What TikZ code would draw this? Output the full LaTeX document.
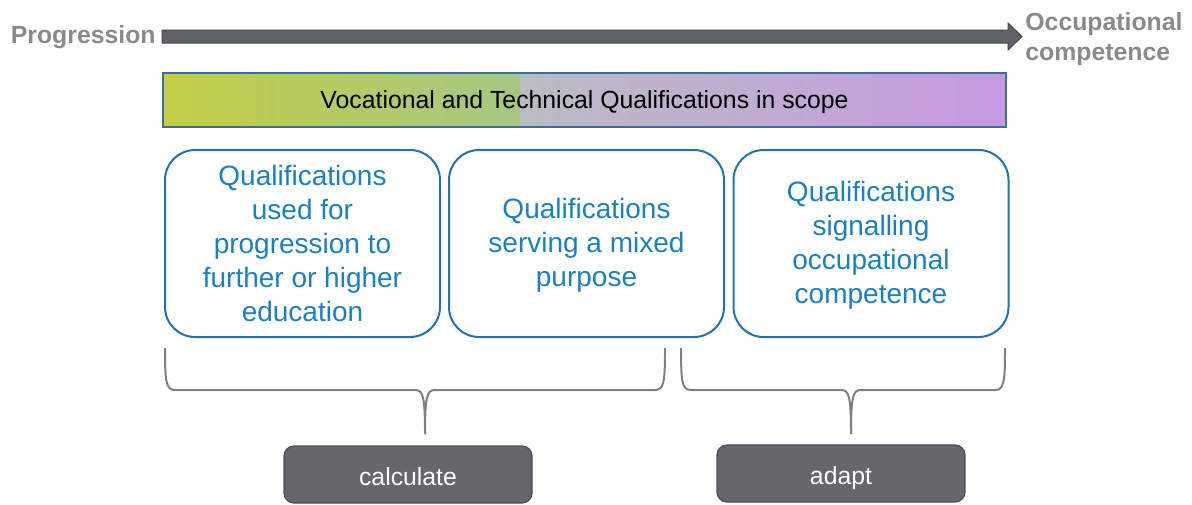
\documentclass[tikz,border=0pt]{standalone}
\usepackage{fontspec}
\setmainfont{Liberation Sans}

\definecolor{leadgray}{HTML}{8A8A8A}
\definecolor{arrowfill}{HTML}{5F6368}
\definecolor{arrowline}{HTML}{45484C}
\definecolor{barline}{HTML}{3A6F9C}
\definecolor{barleft}{HTML}{C3CE45}
\definecolor{barmid}{HTML}{A6C783}
\definecolor{bargray}{HTML}{BBBCC3}
\definecolor{barright}{HTML}{C59AE1}
\definecolor{qualline}{HTML}{2272B0}
\definecolor{qualtext}{HTML}{1B80C3}
\definecolor{bracegray}{HTML}{7F7F7F}
\definecolor{actionfill}{HTML}{64676B}
\definecolor{actionline}{HTML}{4B4E52}

\tikzset{
  lead/.style={font=\fontsize{12.4}{15}\selectfont\bfseries, text=leadgray, inner sep=0pt, align=left},
  scopebar/.style={draw=barline, line width=0.8pt, minimum width=421.5pt, minimum height=27pt,
    inner sep=0pt, text height=11.5pt, text depth=3pt, font=\fontsize{12.4}{15}\selectfont},
  qual/.style={draw=qualline, line width=1pt, rounded corners=15pt, minimum width=137.5pt,
    minimum height=93.5pt, align=center, text=qualtext, font=\fontsize{14}{17}\selectfont},
  bracket/.style={draw=bracegray, line width=1pt},
  action/.style={fill=actionfill, draw=actionline, line width=0.6pt, rounded corners=5pt,
    minimum width=124pt, minimum height=28.5pt, inner sep=0pt, text height=10.5pt, text depth=0pt,
    text=white, font=\fontsize{12.4}{15}\selectfont},
}

\begin{document}
\begin{tikzpicture}[x=0.5pt, y=-0.5pt]
                        \useasboundingbox (0,0) rectangle (1192,504);

                        % progression arrow
                        \node[lead, anchor=east] (prog) at (156,37) {Progression};
                        \node[lead, anchor=west] (occ) at (1025,39) {Occupational\\competence};
                        \filldraw[fill=arrowfill, draw=arrowline, line width=0.5pt]
                            (162,30) -- (1008,30) -- (1008,23) -- (1022,36.5)
                            -- (1008,50) -- (1008,43) -- (162,43) -- cycle;

                        % scope bar, two shaded halves under the frame
                        \shade[left color=barleft, right color=barmid] (163,73) rectangle (520,127);
                        \shade[left color=bargray, right color=barright] (520,73) rectangle (1006,127);
                        \node[scopebar] (scope) at (584.5,100) {Vocational and Technical Qualifications in scope};

                        % qualification groups
                        \node[qual] (further) at (302.5,243.5)
                            {Qualifications\\used for\\progression to\\further or higher\\education};
                        \node[qual] (mixed) at (586.5,243.5)
                            {\strut Qualifications\\serving a mixed\\purpose};
                        \node[qual] (occupational) at (871,243.5)
                            {\strut Qualifications\\signalling\\occupational\\competence};

                        % braces
                        \draw[bracket] (165,348) .. controls (165,382) and (166,390) .. (175,390) -- (415,390)
                            .. controls (423,390) and (425,396) .. (425,434);
                        \draw[bracket] (665,348) .. controls (665,382) and (664,390) .. (655,390) -- (435,390)
                            .. controls (427,390) and (425,396) .. (425,434);

                        \draw[bracket] (681,348) .. controls (681,382) and (682,390) .. (691,390) -- (841,390)
                            .. controls (849,390) and (851,396) .. (851,434);
                        \draw[bracket] (1005,348) .. controls (1005,382) and (1004,390) .. (995,390) -- (861,390)
                            .. controls (853,390) and (851,396) .. (851,434);

                        % actions
                        \node[action] (calc) at (408,474.5) {calculate};
                        \node[action] (adapt) at (841,473.5) {adapt};
                    \end{tikzpicture}
\end{document}
